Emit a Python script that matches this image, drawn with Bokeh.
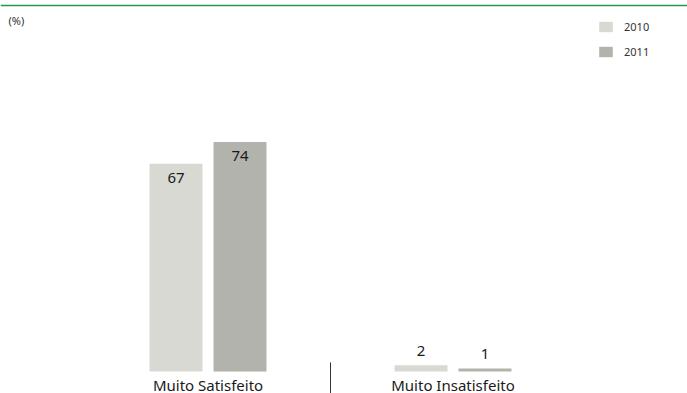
from bokeh.plotting import figure
from bokeh.models import ColumnDataSource, Range1d, Legend, LegendItem, Label, Span
from bokeh.core.properties import value
from bokeh.embed import file_html
from bokeh.resources import INLINE

categories = ["Muito Satisfeito", "Muito Insatisfeito"]
years = ["2010", "2011"]
values_2010 = [67, 2]
values_2011 = [74, 1]
colors = {"2010": "#d9d9d4", "2011": "#b3b3ad"}
FONT = "Noto Sans"

W, H = 687, 393
group_px = 245.0          # pixels between group centres
base_px = 371.0           # baseline pixel (from top)
scale = 3.1               # px per percent
first_center_px = 207.5

x0 = -first_center_px / group_px
x1 = (W - first_center_px) / group_px
y0 = -(H - base_px) / scale
y1 = base_px / scale

p = figure(width=W, height=H, output_backend="svg", toolbar_location=None,
           x_range=Range1d(x0, x1), y_range=Range1d(y0, y1),
           min_border=0, min_border_left=0, min_border_right=0,
           min_border_top=0, min_border_bottom=0)
p.axis.visible = False
p.grid.visible = False
p.outline_line_color = None
p.background_fill_color = "white"

bar_w = 53 / group_px
off = 32 / group_px

renderers = {}
for j, (yr, vals) in enumerate(zip(years, [values_2010, values_2011])):
    xs = [i + (off if j else -off) for i in range(len(categories))]
    src = ColumnDataSource(dict(x=xs, top=vals))
    r = p.vbar(x="x", top="top", width=bar_w, bottom=0, source=src,
               fill_color=colors[yr], line_color=None)
    renderers[yr] = r
    big = ColumnDataSource(dict(x=[x for x, v in zip(xs, vals) if v > 10],
                                y=[v for v in vals if v > 10],
                                t=[str(v) for v in vals if v > 10]))
    small = ColumnDataSource(dict(x=[x for x, v in zip(xs, vals) if v <= 10],
                                  y=[v for v in vals if v <= 10],
                                  t=[str(v) for v in vals if v <= 10]))
    p.text(x="x", y="y", text="t", source=big, text_align="center",
           text_baseline="middle", y_offset=14, text_font=value(FONT),
           text_font_size="15px", text_color="#1a1a1a")
    p.text(x="x", y="y", text="t", source=small, text_align="center",
           text_baseline="middle", y_offset=-14, text_font=value(FONT),
           text_font_size="15px", text_color="#1a1a1a")

# category labels
cat_src = ColumnDataSource(dict(x=list(range(len(categories))), y=[0] * len(categories), t=categories))
p.text(x="x", y="y", text="t", source=cat_src, text_align="center",
       text_baseline="middle", y_offset=13, text_font=value(FONT),
       text_font_size="15px", text_color="#1a1a1a")

# separator between groups
p.segment(x0=[0.5], x1=[0.5], y0=[(base_px - 362) / scale], y1=[y0],
          line_color="#333333", line_width=1)

# top green rule
p.add_layout(Span(location=(base_px - 5) / scale, dimension="width",
                  line_color="#1f9a55", line_width=1.5))

p.add_layout(Label(x=8, y=H - 20, x_units="screen", y_units="screen", text="(%)",
                   text_font=FONT, text_font_size="11px", text_baseline="middle",
                   text_color="#333333"))

legend = Legend(items=[LegendItem(label=yr, renderers=[renderers[yr]]) for yr in years],
                location=(597, H - 59), glyph_width=17, glyph_height=13,
                label_text_font=FONT, label_text_font_size="11px",
                label_text_color="#333333", spacing=10, padding=0, margin=0,
                border_line_color=None, background_fill_alpha=0,
                label_standoff=10, label_height=12)
p.add_layout(legend)

open("out.html", "w").write(file_html(p, INLINE))
